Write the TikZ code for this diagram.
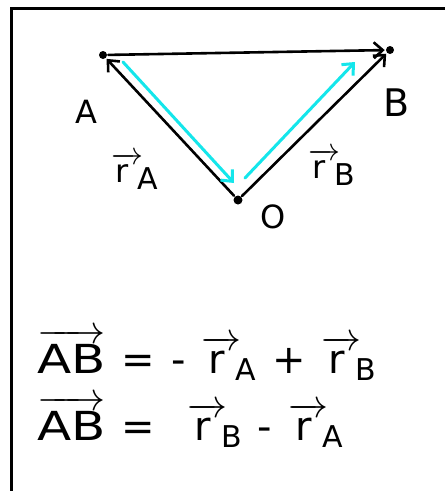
\RequirePackage{fix-cm}
\documentclass[tikz,border=0pt]{standalone}
\usepackage{tikz}
\usepackage{graphicx}
\usetikzlibrary{arrows.meta, positioning, calc}
\usepackage{amsmath, amssymb}
\usepackage{fontspec}
\setmainfont{DejaVu Sans}
\definecolor{handcyan}{RGB}{20,230,235}
% hand-style vector r with a lowered index
\newcommand{\vr}[1]{$\overrightarrow{\text{r}\hspace{10pt}}$\hspace{-6pt}\raisebox{-7pt}{\fontsize{30}{30}\selectfont #1}}
\newcommand{\vab}{$\overrightarrow{\text{\scalebox{1.25}[1]{AB}}}$}
\newcommand{\gap}{\hspace{16pt}}

\begin{document}
\begin{tikzpicture}[x=1pt, y=-1pt, line width=2.6pt, line cap=round,
    dot/.style={circle, fill, inner sep=0pt, minimum size=8pt},
    vecline/.style={-{Straight Barb[length=9pt, width=16pt, line width=2.6pt]}},
    cyanline/.style={handcyan, line width=3pt, -{Straight Barb[length=9pt, width=16pt, line width=3pt]}},
    lbl/.style={font=\fontsize{32}{34}\selectfont, inner sep=0pt},
    eqn/.style={anchor=base west, font=\fontsize{40}{44}\selectfont, inner sep=0pt}]
      \useasboundingbox (0,0) rectangle (445,491);
      \fill[white] (0,0) rectangle (445,491);
      % frame
      \draw[line width=3pt, line cap=butt] (445,8.5) -- (11.5,8.5) -- (11.5,491);
      % points
      \node[dot] (A) at (103,55) {};
      \node[dot] (B) at (390,50) {};
      \node[dot, minimum size=9pt] (O) at (238,200) {};
      \node[lbl] (la) at (86,112) {A};
      \node[lbl, font=\fontsize{38}{40}\selectfont] (lb) at (397,103) {B};
      \node[lbl] (lo) at (273,217) {O};
      \node[lbl, anchor=base west] (lra) at (110,182) {\vr{A}};
      \node[lbl, anchor=base west] (lrb) at (307,178) {\vr{B}};
      % vectors
      \draw[vecline] (O) -- (A);
      \draw[vecline] (O) -- (B);
      \draw[vecline] (A) -- (B);
      % cyan path
      \coordinate (c1) at (123,62);
      \coordinate (c2) at (234,183);
      \coordinate (c3) at (245,178);
      \coordinate (c4) at (355,62);
      \draw[cyanline] (c1) -- (c2);
      \draw[cyanline] (c3) -- (c4);
      % equations
      \node[eqn] (eq1) at (36,373) {\vab\gap=\gap-\gap\vr{A}\gap+\gap\vr{B}};
      \node[eqn] (eq2) at (36,440) {\vab\gap=\gap\gap\vr{B}\gap-\gap\vr{A}};
    \end{tikzpicture}
\end{document}
